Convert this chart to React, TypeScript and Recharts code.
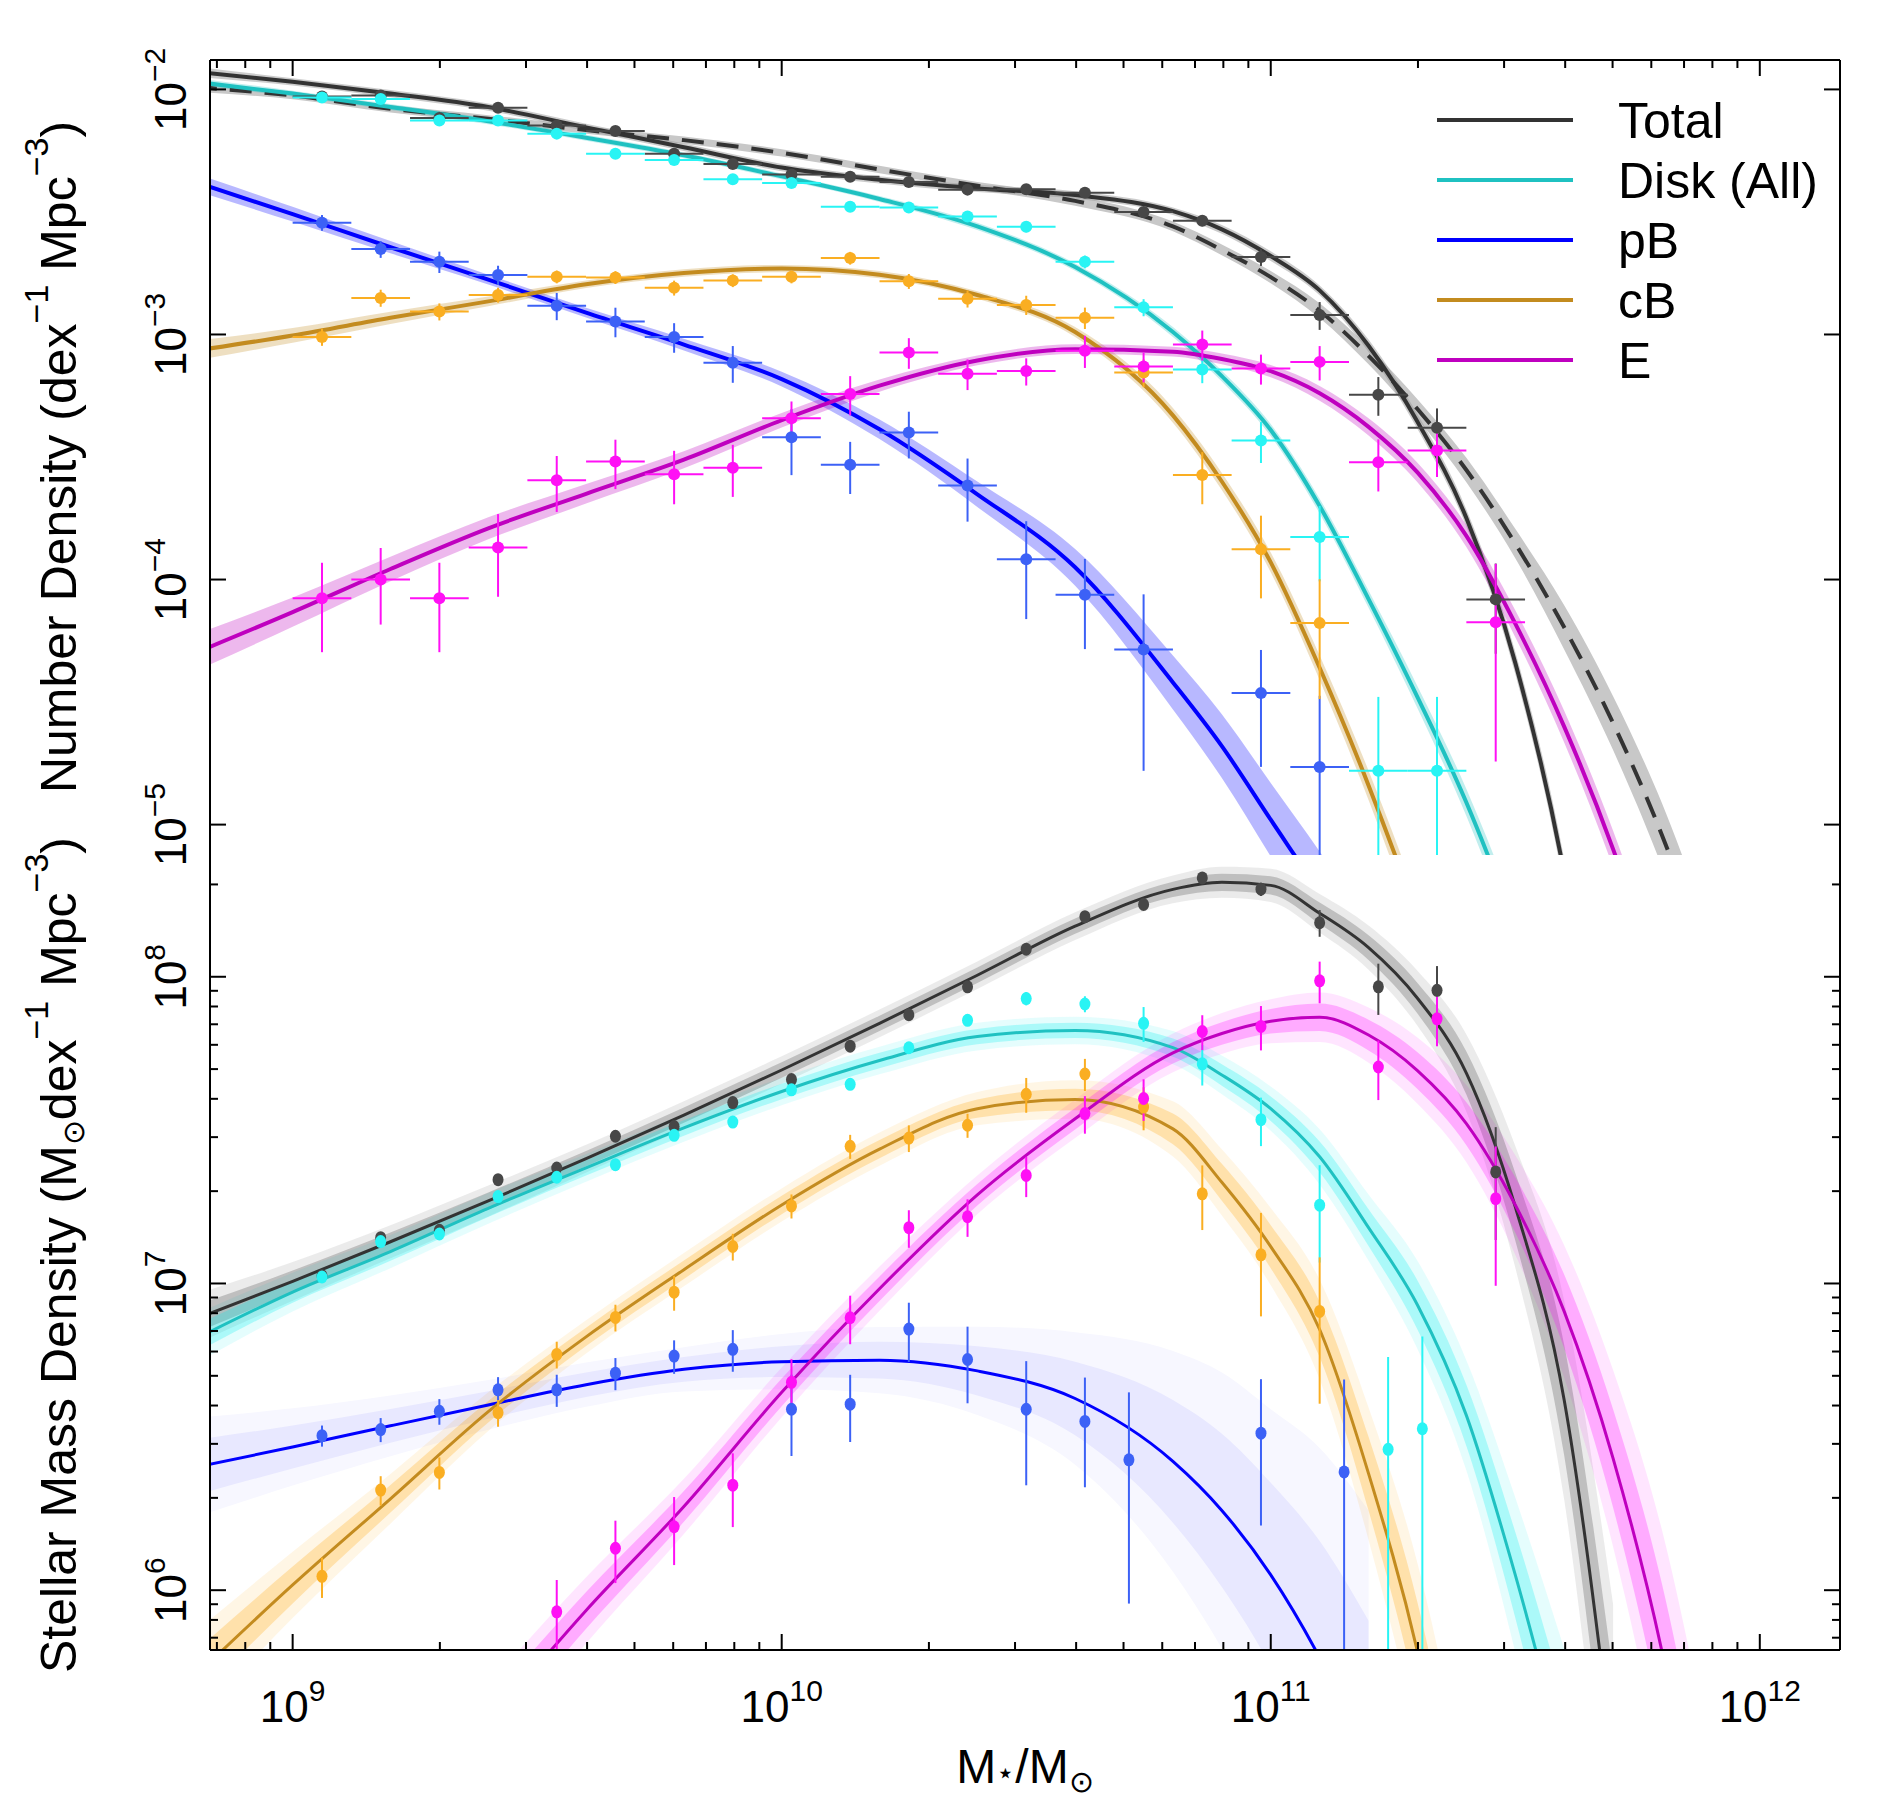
import { Area, ComposedChart, ErrorBar, Legend, Line, Scatter, XAxis, YAxis } from 'recharts';

const FONT = '"Liberation Sans", Arial, Helvetica, sans-serif';

// log10(M*/Msun) grid the fitted curves were read at
const CURVE_LOGM = [8.8, 9.0, 9.2, 9.4, 9.6, 9.8, 10.0, 10.2, 10.4, 10.6, 10.8, 10.9, 11.0, 11.1, 11.2, 11.3, 11.4, 11.5, 11.6, 11.7, 11.8, 11.9, 12.0];

// number density fits, log10(dex^-1 Mpc^-3)
const TOTAL_N_FIT = [-1.928, -1.969, -2.017, -2.072, -2.155, -2.236, -2.319, -2.369, -2.404, -2.431, -2.497, -2.571, -2.68, -2.82, -3.046, -3.356, -3.749, -4.34, -5.2, -6.5, null, null, null];
const SUM_N_FIT = [-1.99, -2.025, -2.079, -2.12, -2.166, -2.207, -2.259, -2.327, -2.393, -2.455, -2.559, -2.655, -2.766, -2.903, -3.087, -3.304, -3.553, -3.853, -4.195, -4.586, -5.043, -5.6, -6.2];
const DISK_N_FIT = [-1.969, -2.017, -2.072, -2.13, -2.197, -2.269, -2.355, -2.447, -2.559, -2.725, -2.99, -3.17, -3.39, -3.7, -4.08, -4.48, -4.91, -5.42, -6.0, null, null, null, null];
const PB_N_FIT = [-2.377, -2.509, -2.644, -2.776, -2.911, -3.041, -3.182, -3.387, -3.652, -3.95, -4.42, -4.68, -4.98, -5.28, -5.6, null, null, null, null, null, null, null, null];
const CB_N_FIT = [-3.066, -3.004, -2.932, -2.865, -2.795, -2.749, -2.731, -2.756, -2.839, -2.99, -3.33, -3.6, -3.93, -4.36, -4.84, -5.38, -6.0, null, null, null, null, null, null];
const E_N_FIT = [-4.3, -4.133, -3.957, -3.791, -3.65, -3.511, -3.35, -3.209, -3.106, -3.06, -3.07, -3.1, -3.15, -3.24, -3.377, -3.563, -3.822, -4.18, -4.6, -5.1, -5.7, -6.4, null];

// half-widths of the uncertainty bands, dex
const TOTAL_N_BAND = [0.02, 0.015, 0.015, 0.015, 0.015, 0.015, 0.015, 0.015, 0.015, 0.015, 0.015, 0.018, 0.02, 0.02, 0.025, 0.03, 0.035, 0.045, 0.06, 0.08, null, null, null];
const SUM_N_BAND = [0.02, 0.015, 0.015, 0.015, 0.015, 0.015, 0.015, 0.015, 0.015, 0.02, 0.02, 0.022, 0.025, 0.03, 0.035, 0.04, 0.05, 0.06, 0.09, 0.11, 0.13, 0.15, 0.17];
const DISK_N_BAND = [0.015, 0.012, 0.012, 0.012, 0.012, 0.012, 0.012, 0.012, 0.015, 0.015, 0.02, 0.022, 0.025, 0.03, 0.035, 0.045, 0.055, 0.065, 0.075, null, null, null, null];
const PB_N_BAND = [0.035, 0.03, 0.025, 0.02, 0.02, 0.024, 0.03, 0.04, 0.052, 0.075, 0.11, 0.13, 0.15, 0.17, 0.19, null, null, null, null, null, null, null, null];
const CB_N_BAND = [0.04, 0.03, 0.025, 0.02, 0.015, 0.015, 0.015, 0.015, 0.015, 0.02, 0.03, 0.035, 0.04, 0.05, 0.06, 0.07, 0.08, null, null, null, null, null, null];
const E_N_BAND = [0.075, 0.06, 0.05, 0.045, 0.04, 0.035, 0.03, 0.025, 0.02, 0.02, 0.02, 0.022, 0.025, 0.03, 0.035, 0.04, 0.045, 0.055, 0.065, 0.075, 0.09, 0.1, null];

// stellar mass density fits, log10(Msun dex^-1 Mpc^-3)
const TOTAL_RHO_FIT = [6.883, 7.007, 7.136, 7.269, 7.407, 7.549, 7.696, 7.848, 8.005, 8.165, 8.285, 8.308, 8.298, 8.207, 8.095, 7.93, 7.686, 7.25, 6.62, 5.45, null, null, null];
const DISK_RHO_FIT = [6.818, 6.972, 7.104, 7.245, 7.377, 7.507, 7.626, 7.727, 7.805, 7.825, 7.769, 7.68, 7.57, 7.413, 7.182, 6.93, 6.57, 6.05, 5.45, null, null, null, null];
const PB_RHO_FIT = [6.4, 6.467, 6.536, 6.604, 6.67, 6.72, 6.745, 6.75, 6.715, 6.625, 6.42, 6.26, 6.05, 5.78, 5.45, null, null, null, null, null, null, null, null];
const CB_RHO_FIT = [5.719, 6.017, 6.298, 6.582, 6.826, 7.045, 7.256, 7.438, 7.57, 7.6, 7.504, 7.33, 7.12, 6.85, 6.38, 5.8, 5.0, null, null, null, null, null, null];
const E_RHO_FIT = [null, null, null, 5.566, 5.934, 6.273, 6.645, 6.983, 7.289, 7.537, 7.752, 7.815, 7.855, 7.868, 7.81, 7.694, 7.521, 7.256, 6.909, 6.43, 5.8, 4.95, null];

const TOTAL_RHO_BAND = [0.045, 0.035, 0.03, 0.028, 0.025, 0.025, 0.025, 0.025, 0.025, 0.025, 0.025, 0.028, 0.03, 0.035, 0.04, 0.05, 0.07, 0.11, 0.18, 0.28, null, null, null];
const DISK_RHO_BAND = [0.045, 0.035, 0.03, 0.028, 0.025, 0.025, 0.025, 0.025, 0.025, 0.025, 0.03, 0.035, 0.04, 0.05, 0.06, 0.08, 0.1, 0.14, 0.2, null, null, null, null];
const PB_RHO_BAND = [0.09, 0.07, 0.055, 0.045, 0.04, 0.04, 0.05, 0.06, 0.08, 0.12, 0.2, 0.25, 0.3, 0.38, 0.45, null, null, null, null, null, null, null, null];
const CB_RHO_BAND = [0.08, 0.06, 0.045, 0.035, 0.03, 0.03, 0.03, 0.03, 0.03, 0.035, 0.05, 0.06, 0.07, 0.09, 0.12, 0.16, 0.2, null, null, null, null, null, null];
const E_RHO_BAND = [null, null, null, 0.07, 0.06, 0.05, 0.045, 0.04, 0.035, 0.035, 0.035, 0.037, 0.04, 0.045, 0.05, 0.06, 0.07, 0.09, 0.12, 0.16, 0.22, 0.28, null];

// measured bins (log10 M*), bin half width 0.06 dex
const BIN_LOGM = [9.06, 9.18, 9.3, 9.42, 9.54, 9.66, 9.78, 9.9, 10.02, 10.14, 10.26, 10.38, 10.5, 10.62, 10.74, 10.86, 10.98, 11.1, 11.22, 11.34, 11.46];
const BIN_HALF = 0.06;

// number density points and relative errors
const TOTAL_N = [9.35e-3, 9.45e-3, 7.65e-3, 8.42e-3, 7.13e-3, 6.76e-3, 5.46e-3, 4.96e-3, 4.5e-3, 4.4e-3, 4.19e-3, 3.9e-3, 3.91e-3, 3.79e-3, 3.16e-3, 2.91e-3, 2.07e-3, 1.2e-3, 5.68e-4, 4.16e-4, 8.3e-5];
const TOTAL_N_ERR = [0.03, 0.03, 0.03, 0.03, 0.03, 0.03, 0.03, 0.03, 0.03, 0.03, 0.03, 0.03, 0.03, 0.03, 0.04, 0.05, 0.08, 0.13, 0.18, 0.2, 0.4];
const DISK_N = [9.27e-3, 9.14e-3, 7.47e-3, 7.47e-3, 6.6e-3, 5.46e-3, 5.15e-3, 4.3e-3, 4.15e-3, 3.32e-3, 3.3e-3, 3.03e-3, 2.75e-3, 1.98e-3, 1.29e-3, 7.19e-4, 3.69e-4, 1.49e-4, 1.66e-5, 1.66e-5, null];
const DISK_N_ERR = [0.03, 0.03, 0.03, 0.03, 0.03, 0.03, 0.03, 0.03, 0.03, 0.03, 0.035, 0.04, 0.05, 0.06, 0.08, 0.12, 0.19, 0.34, 1.0, 1.0, null];
const PB_N = [2.86e-3, 2.23e-3, 1.98e-3, 1.75e-3, 1.31e-3, 1.13e-3, 9.77e-4, 7.66e-4, 3.81e-4, 2.94e-4, 3.98e-4, 2.42e-4, 1.21e-4, 8.67e-5, 5.18e-5, null, 3.44e-5, 1.72e-5, null, null, null];
const PB_N_ERR = [0.074, 0.079, 0.1, 0.09, 0.127, 0.138, 0.138, 0.171, 0.3, 0.24, 0.216, 0.288, 0.43, 0.4, 0.68, null, 0.5, 0.95, null, null, null];
const CB_N = [9.77e-4, 1.41e-3, 1.24e-3, 1.45e-3, 1.72e-3, 1.71e-3, 1.55e-3, 1.66e-3, 1.72e-3, 2.05e-3, 1.65e-3, 1.4e-3, 1.32e-3, 1.17e-3, 7.0e-4, 2.67e-4, 1.33e-4, 6.64e-5, null, null, null];
const CB_N_ERR = [0.08, 0.08, 0.08, 0.07, 0.06, 0.06, 0.07, 0.06, 0.06, 0.06, 0.07, 0.08, 0.09, 0.1, 0.13, 0.24, 0.37, 0.51, null, null, null];
const E_N = [8.38e-5, 1.0e-4, 8.38e-5, 1.35e-4, 2.54e-4, 3.03e-4, 2.69e-4, 2.86e-4, 4.55e-4, 5.72e-4, 8.45e-4, 6.92e-4, 7.09e-4, 8.59e-4, 7.41e-4, 9.1e-4, 7.26e-4, 7.73e-4, 3.01e-4, 3.36e-4, 6.7e-5];
const E_N_ERR = [0.397, 0.345, 0.397, 0.37, 0.257, 0.228, 0.246, 0.24, 0.171, 0.182, 0.143, 0.143, 0.127, 0.15, 0.14, 0.14, 0.14, 0.16, 0.24, 0.22, 0.73];

// stellar mass density points, their masses where they sit off the bin centre, and relative errors
const TOTAL_RHO = [1.06e7, 1.41e7, 1.49e7, 2.18e7, 2.38e7, 3.02e7, 3.25e7, 3.89e7, 4.62e7, 5.94e7, 7.52e7, 9.27e7, 1.23e8, 1.57e8, 1.72e8, 2.1e8, 1.93e8, 1.5e8, 9.27e7, 9.03e7, 2.31e7];
const TOTAL_RHO_ERR = [0.03, 0.03, 0.03, 0.03, 0.03, 0.03, 0.03, 0.03, 0.03, 0.03, 0.03, 0.03, 0.03, 0.03, 0.03, 0.04, 0.05, 0.1, 0.19, 0.2, 0.4];
const DISK_RHO = [1.05e7, 1.37e7, 1.45e7, 1.92e7, 2.22e7, 2.44e7, 3.04e7, 3.36e7, 4.28e7, 4.46e7, 5.87e7, 7.21e7, 8.49e7, 8.15e7, 7.05e7, 5.2e7, 3.42e7, 1.8e7, 2.88e6, 3.36e6, null];
const DISK_RHO_LOGM = [9.06, 9.18, 9.3, 9.42, 9.54, 9.66, 9.78, 9.9, 10.02, 10.14, 10.26, 10.38, 10.5, 10.62, 10.74, 10.86, 10.98, 11.1, 11.24, 11.31, 11.46];
const DISK_RHO_ERR = [0.03, 0.03, 0.03, 0.03, 0.03, 0.03, 0.03, 0.03, 0.03, 0.03, 0.03, 0.03, 0.05, 0.06, 0.13, 0.15, 0.18, 0.35, 1.0, 1.0, null];
const PB_RHO = [3.19e6, 3.34e6, 3.83e6, 4.5e6, 4.5e6, 5.1e6, 5.8e6, 6.1e6, 3.89e6, 4.04e6, 7.1e6, 5.65e6, 3.89e6, 3.55e6, 2.66e6, null, 3.25e6, 2.43e6, null, null, null];
const PB_RHO_LOGM = [9.06, 9.18, 9.3, 9.42, 9.54, 9.66, 9.78, 9.9, 10.02, 10.14, 10.26, 10.38, 10.5, 10.62, 10.71, 10.86, 10.98, 11.15, 11.22, 11.34, 11.46];
const PB_RHO_ERR = [0.079, 0.09, 0.096, 0.1, 0.12, 0.12, 0.125, 0.155, 0.296, 0.247, 0.219, 0.28, 0.435, 0.39, 0.66, null, 0.5, 1.0, null, null, null];
const CB_RHO = [1.11e6, 2.12e6, 2.42e6, 3.79e6, 5.87e6, 7.75e6, 9.37e6, 1.32e7, 1.79e7, 2.8e7, 2.98e7, 3.28e7, 4.14e7, 4.82e7, 3.76e7, 1.96e7, 1.24e7, 8.11e6, null, null, null];
const CB_RHO_ERR = [0.15, 0.11, 0.12, 0.1, 0.1, 0.1, 0.13, 0.1, 0.09, 0.09, 0.1, 0.09, 0.13, 0.12, 0.16, 0.238, 0.37, 0.5, null, null, null];
const E_RHO = [null, null, null, null, 8.5e5, 1.37e6, 1.61e6, 2.2e6, 4.76e6, 7.73e6, 1.52e7, 1.65e7, 2.25e7, 3.58e7, 4.01e7, 6.63e7, 6.89e7, 9.7e7, 5.08e7, 7.29e7, 1.89e7];
const E_RHO_ERR = [null, null, null, null, 0.27, 0.23, 0.25, 0.27, 0.19, 0.18, 0.14, 0.14, 0.15, 0.14, 0.155, 0.13, 0.165, 0.155, 0.22, 0.186, 0.48];

const LEGEND_LABELS = ['Total', 'Disk (All)', 'pB', 'cB', 'E'];

// axis ranges
const X_DOMAIN = [10 ** 8.831, 10 ** 12.164];
const N_DOMAIN = [10 ** -5.124, 10 ** -1.88];
const RHO_DOMAIN = [10 ** 5.805, 10 ** 8.397];

const COLORS: any = {
  total: { line: '#333333', dot: '#474747', band: '#9a9a9a', fuzz: '#3a3a3a' },
  sum: { line: '#333333', band: '#c8c8c8' },
  disk: { line: '#1fc1c1', dot: '#29f4f4', band: '#1fc1c1', fuzz: '#00f0f0' },
  pb: { line: '#0000ff', dot: '#3c61f6', band: '#0000ff', fuzz: '#2828ff' },
  cb: { line: '#c38b1f', dot: '#faae22', band: '#c38b1f', fuzz: '#ffa500' },
  e: { line: '#bf00bf', dot: '#ff10f5', band: '#bf00bf', fuzz: '#ff00ff' },
};

const N_CURVES = [
  { key: 'sum', fit: SUM_N_FIT, band: SUM_N_BAND, dashed: true },
  { key: 'total', fit: TOTAL_N_FIT, band: TOTAL_N_BAND },
  { key: 'disk', fit: DISK_N_FIT, band: DISK_N_BAND },
  { key: 'pb', fit: PB_N_FIT, band: PB_N_BAND },
  { key: 'cb', fit: CB_N_FIT, band: CB_N_BAND },
  { key: 'e', fit: E_N_FIT, band: E_N_BAND },
];

const RHO_CURVES = [
  { key: 'total', fit: TOTAL_RHO_FIT, band: TOTAL_RHO_BAND },
  { key: 'disk', fit: DISK_RHO_FIT, band: DISK_RHO_BAND },
  { key: 'pb', fit: PB_RHO_FIT, band: PB_RHO_BAND },
  { key: 'cb', fit: CB_RHO_FIT, band: CB_RHO_BAND },
  { key: 'e', fit: E_RHO_FIT, band: E_RHO_BAND },
];

const N_POINTS = [
  { key: 'total', values: TOTAL_N, err: TOTAL_N_ERR },
  { key: 'disk', values: DISK_N, err: DISK_N_ERR },
  { key: 'pb', values: PB_N, err: PB_N_ERR },
  { key: 'cb', values: CB_N, err: CB_N_ERR },
  { key: 'e', values: E_N, err: E_N_ERR },
];

const RHO_POINTS = [
  { key: 'total', values: TOTAL_RHO, err: TOTAL_RHO_ERR, logm: BIN_LOGM },
  { key: 'disk', values: DISK_RHO, err: DISK_RHO_ERR, logm: DISK_RHO_LOGM },
  { key: 'pb', values: PB_RHO, err: PB_RHO_ERR, logm: PB_RHO_LOGM },
  { key: 'cb', values: CB_RHO, err: CB_RHO_ERR, logm: BIN_LOGM },
  { key: 'e', values: E_RHO, err: E_RHO_ERR, logm: BIN_LOGM },
];

function curveRows(curves: any[]) {
  return CURVE_LOGM.map((lm, i) => {
    const row: any = { m: 10 ** lm };
    curves.forEach((c) => {
      const v = c.fit[i];
      const w = c.band[i];
      row[c.key] = v == null ? null : 10 ** v;
      row[c.key + 'In'] = v == null || w == null ? null : [10 ** (v - w), 10 ** (v + w)];
      row[c.key + 'Out'] = v == null || w == null ? null : [10 ** (v - 1.8 * w), 10 ** (v + 1.8 * w)];
    });
    return row;
  });
}

// error bars are cut at the frame, as in the original figure
function pointRows(values: any[], err: any[], logm: number[], yDomain: number[]) {
  const rows: any[] = [];
  values.forEach((v, i) => {
    if (v == null) return;
    const m = 10 ** logm[i];
    const s = v * err[i];
    rows.push({
      m,
      y: v,
      yErr: [Math.min(s, v - yDomain[0]), Math.min(s, yDomain[1] - v)],
      xErr: [m - m * 10 ** -BIN_HALF, m * 10 ** BIN_HALF - m],
    });
  });
  return rows;
}

function logTicks([lo, hi]: number[], minor: boolean) {
  const out: number[] = [];
  for (let e = Math.floor(Math.log10(lo)); e <= Math.ceil(Math.log10(hi)); e++) {
    (minor ? [1, 2, 3, 4, 5, 6, 7, 8, 9] : [1]).forEach((k) => {
      const v = k * Math.pow(10, e);
      if (v >= lo && v <= hi) out.push(v);
    });
  }
  return out;
}

const X_TICKS = logTicks(X_DOMAIN, true);
const N_TICKS = logTicks(N_DOMAIN, false);
const RHO_TICKS = logTicks(RHO_DOMAIN, true);

const isDecade = (v: number) => Math.abs(Math.log10(v) - Math.round(Math.log10(v))) < 1e-6;
const expText = (v: number) => {
  const e = Math.round(Math.log10(v));
  return e < 0 ? '\u2212' + Math.abs(e) : String(e);
};

const AXIS_LINE = { stroke: '#000', strokeWidth: 2 };

function xTick(side: 'top' | 'bottom', labels: boolean) {
  return (props: any) => {
    const { x, y, payload } = props;
    const major = isDecade(payload.value);
    const dir = side === 'bottom' ? -1 : 1;
    return (
      <g>
        <line x1={x} x2={x} y1={y} y2={y + dir * (major ? 16 : 8)} stroke="#000" strokeWidth={2} />
        {labels && major && (
          <text x={x} y={y + 72} textAnchor="middle" fontSize={44} fontFamily={FONT} fill="#000">
            10
            <tspan dy={-21} fontSize={30}>
              {expText(payload.value)}
            </tspan>
          </text>
        )}
      </g>
    );
  };
}

function yTick(side: 'left' | 'right', labels: boolean) {
  return (props: any) => {
    const { x, y, payload } = props;
    const major = isDecade(payload.value);
    const dir = side === 'left' ? 1 : -1;
    const lx = x - 24;
    return (
      <g>
        <line x1={x} x2={x + dir * (major ? 16 : 8)} y1={y} y2={y} stroke="#000" strokeWidth={2} />
        {labels && major && (
          <text x={lx} y={y} transform={`rotate(-90 ${lx} ${y})`} textAnchor="middle" fontSize={44} fontFamily={FONT} fill="#000">
            10
            <tspan dy={-21} fontSize={30}>
              {expText(payload.value)}
            </tspan>
          </text>
        )}
      </g>
    );
  };
}

function LegendBox() {
  const keys = ['total', 'disk', 'pb', 'cb', 'e'];
  return (
    <svg width={440} height={320}>
      {keys.map((k, i) => (
        <g key={k}>
          <line x1={17} x2={153} y1={35 + 60 * i} y2={35 + 60 * i} stroke={COLORS[k].line} strokeWidth={4} />
          <text x={198} y={53 + 60 * i} fontSize={50} fontFamily={FONT} fill="#000">
            {LEGEND_LABELS[i]}
          </text>
        </g>
      ))}
    </svg>
  );
}

const nRows = curveRows(N_CURVES);
const rhoRows = curveRows(RHO_CURVES);

function axes(yDomain: number[], yTicks: number[], xLabels: boolean, topHeight: number, bottomHeight: number) {
  const common = { type: 'number' as const, scale: 'log' as const, allowDataOverflow: true, interval: 0 as const, tickSize: 0, tickMargin: 0, tickLine: false, axisLine: AXIS_LINE };
  return [
    <XAxis key="xb" dataKey="m" domain={X_DOMAIN} ticks={X_TICKS} height={bottomHeight} tick={xTick('bottom', xLabels)} {...common} />,
    <XAxis key="xt" xAxisId="top" orientation="top" dataKey="m" domain={X_DOMAIN} ticks={X_TICKS} height={topHeight} tick={xTick('top', false)} {...common} />,
    <YAxis key="yl" domain={yDomain} ticks={yTicks} width={210} tick={yTick('left', true)} {...common} />,
    <YAxis key="yr" yAxisId="right" orientation="right" domain={yDomain} ticks={yTicks} width={60} tick={yTick('right', false)} {...common} />,
  ];
}

export default function App() {
  return (
    <div style={{ position: 'relative', width: 1900, height: 1800, background: '#fff', fontFamily: FONT }}>
      <style>{'body{margin:0} .recharts-surface{overflow:visible}'}</style>

      <div style={{ position: 'absolute', left: 0, top: 0 }}>
        <ComposedChart width={1900} height={855} data={nRows} margin={{ top: 0, right: 0, bottom: 0, left: 0 }}>
          {axes(N_DOMAIN, N_TICKS, false, 60, 0)}
          {N_CURVES.map((c) => (
            <Area
              key={c.key + 'band'}
              dataKey={c.key + 'In'}
              type="monotone"
              stroke="none"
              fill={COLORS[c.key].band}
              fillOpacity={c.key === 'sum' ? 1 : c.key === 'total' ? 0.5 : 0.28}
              isAnimationActive={false}
              activeDot={false}
            />
          ))}
          {N_CURVES.map((c) => (
            <Line
              key={c.key + 'line'}
              dataKey={c.key}
              type="monotone"
              stroke={COLORS[c.key].line}
              strokeWidth={4}
              strokeDasharray={c.dashed ? '22 13' : undefined}
              dot={false}
              activeDot={false}
              isAnimationActive={false}
            />
          ))}
          {N_POINTS.map((p) => {
            const color = COLORS[p.key].dot;
            return (
              <Scatter
                key={p.key + 'pts'}
                data={pointRows(p.values, p.err, BIN_LOGM, N_DOMAIN)}
                dataKey="y"
                fill={color}
                isAnimationActive={false}
                shape={(s: any) => <circle cx={s.cx} cy={s.cy} r={6} fill={color} />}
              >
                <ErrorBar dataKey="xErr" direction="x" width={0} stroke={color} strokeWidth={2} />
                <ErrorBar dataKey="yErr" direction="y" width={0} stroke={color} strokeWidth={2} />
              </Scatter>
            );
          })}
          <Legend
            layout="horizontal"
            verticalAlign="middle"
            align="center"
            wrapperStyle={{ left: 1420, top: 85, width: 440, height: 320 }}
            content={() => <LegendBox />}
          />
        </ComposedChart>
      </div>

      <div style={{ position: 'absolute', left: 0, top: 855 }}>
        <ComposedChart width={1900} height={945} data={rhoRows} margin={{ top: 0, right: 0, bottom: 0, left: 0 }}>
          {axes(RHO_DOMAIN, RHO_TICKS, true, 0, 150)}
          {RHO_CURVES.map((c) => (
            <Area
              key={c.key + 'out'}
              dataKey={c.key + 'Out'}
              type="monotone"
              stroke="none"
              fill={COLORS[c.key].fuzz}
              fillOpacity={c.key === 'pb' ? 0.035 : 0.1}
              isAnimationActive={false}
              activeDot={false}
            />
          ))}
          {RHO_CURVES.map((c) => (
            <Area
              key={c.key + 'in'}
              dataKey={c.key + 'In'}
              type="monotone"
              stroke="none"
              fill={COLORS[c.key].fuzz}
              fillOpacity={c.key === 'pb' ? 0.07 : 0.25}
              isAnimationActive={false}
              activeDot={false}
            />
          ))}
          {RHO_CURVES.map((c) => (
            <Line
              key={c.key + 'line'}
              dataKey={c.key}
              type="monotone"
              stroke={COLORS[c.key].line}
              strokeWidth={3}
              dot={false}
              activeDot={false}
              isAnimationActive={false}
            />
          ))}
          {RHO_POINTS.map((p) => {
            const color = COLORS[p.key].dot;
            return (
              <Scatter
                key={p.key + 'pts'}
                data={pointRows(p.values, p.err, p.logm, RHO_DOMAIN)}
                dataKey="y"
                fill={color}
                isAnimationActive={false}
                shape={(s: any) => <ellipse cx={s.cx} cy={s.cy} rx={5.5} ry={6.5} fill={color} />}
              >
                <ErrorBar dataKey="yErr" direction="y" width={0} stroke={color} strokeWidth={2} />
              </Scatter>
            );
          })}
        </ComposedChart>
      </div>

      <svg width={1900} height={1800} style={{ position: 'absolute', left: 0, top: 0, pointerEvents: 'none' }}>
        <text transform="translate(76 457) rotate(-90)" textAnchor="middle" fontSize={50} fontFamily={FONT} fill="#000">
          Number Density (dex
          <tspan dy={-28} fontSize={34}>{'\u22121'}</tspan>
          <tspan dy={28}>{'\u00a0Mpc'}</tspan>
          <tspan dy={-28} fontSize={34}>{'\u22123'}</tspan>
          <tspan dy={28}>)</tspan>
        </text>
        <text transform="translate(76 1255) rotate(-90)" textAnchor="middle" fontSize={50} fontFamily={FONT} fill="#000">
          Stellar Mass Density (M
          <tspan dy={8} fontSize={30}>{'\u2299'}</tspan>
          <tspan dy={-8}>dex</tspan>
          <tspan dy={-28} fontSize={34}>{'\u22121'}</tspan>
          <tspan dy={28}>{'\u00a0Mpc'}</tspan>
          <tspan dy={-28} fontSize={34}>{'\u22123'}</tspan>
          <tspan dy={28}>)</tspan>
        </text>
        <text x={1025} y={1783} textAnchor="middle" fontSize={48} fontFamily={FONT} fill="#000">
          M<tspan fontSize={30}>{'\u22c6'}</tspan>
          <tspan>/M</tspan>
          <tspan dy={9} fontSize={30}>{'\u2299'}</tspan>
        </text>
      </svg>
    </div>
  );
}
